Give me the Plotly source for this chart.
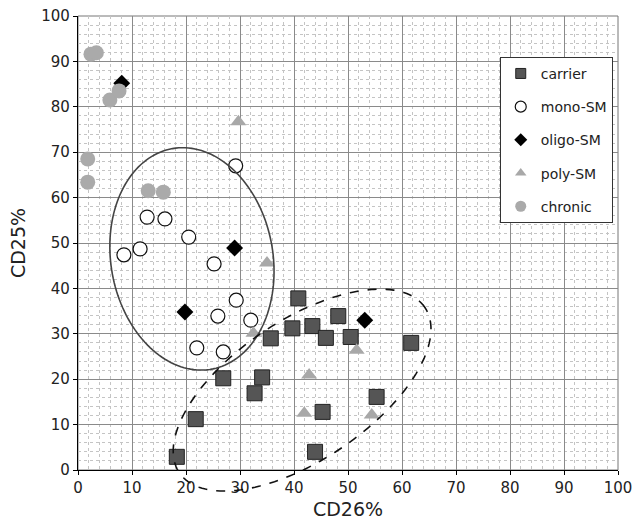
import numpy as np
import plotly.graph_objects as go

# ---- data ----
carrier_x = [40.8, 39.7, 43.4, 35.7, 34.1, 26.9, 32.7, 21.8, 18.3, 43.9, 45.3, 55.3, 61.7, 50.5, 45.9, 48.2]
carrier_y = [37.8, 31.2, 31.7, 29.0, 20.4, 20.2, 16.9, 11.2, 2.9, 4.0, 12.8, 16.1, 28.0, 29.3, 29.1, 33.9]

mono_x = [29.2, 12.8, 16.1, 20.5, 11.5, 8.5, 25.2, 29.3, 25.9, 32.0, 22.0, 26.9]
mono_y = [67.0, 55.7, 55.3, 51.3, 48.7, 47.4, 45.4, 37.4, 33.9, 33.0, 26.9, 26.0]

oligo_x = [8.1, 29.0, 19.8, 53.1]
oligo_y = [85.2, 48.9, 34.8, 33.0]

poly_x = [29.7, 35.0, 32.5, 42.8, 41.9, 51.6, 54.4]
poly_y = [76.7, 45.6, 30.1, 20.9, 12.5, 26.4, 12.1]

chronic_x = [2.4, 3.4, 5.9, 7.6, 1.8, 1.8, 13.0, 15.8]
chronic_y = [91.6, 91.9, 81.5, 83.5, 68.5, 63.4, 61.5, 61.2]

x_ticks = [0, 10, 20, 30, 40, 50, 60, 70, 80, 90, 100]
y_ticks = [0, 10, 20, 30, 40, 50, 60, 70, 80, 90, 100]

# ellipse outlines: centre (data), semi-axes (display px), tilt (deg)
solid_ell = dict(cx=21.1, cy=46.5, a=112, b=81, ang=100)
dash_ell = dict(cx=41.5, cy=17.6, a=148, b=70, ang=33.9)

# ---- layout geometry ----
W, H = 632, 529
ML, MR, MT, MB = 78, 14, 16, 59
kx = (W - ML - MR) / 100.0
ky = (H - MT - MB) / 100.0

def ellipse_path(cx, cy, a, b, ang, n=160):
    t = np.linspace(0, 2 * np.pi, n)
    th = np.radians(ang)
    dx = a * np.cos(t) * np.cos(th) - b * np.sin(t) * np.sin(th)
    dy = a * np.cos(t) * np.sin(th) + b * np.sin(t) * np.cos(th)
    xs = (cx + dx / kx) / 100.0
    ys = (cy + dy / ky) / 100.0
    pts = " L ".join(f"{x:.5f},{y:.5f}" for x, y in zip(xs, ys))
    return "M " + pts + " Z"

FONT = "DejaVu Sans"

styles = [
    ("carrier", carrier_x, carrier_y, dict(symbol="square", size=15, color="#555555", line=dict(color="#222222", width=1)), 10),
    ("mono-SM", mono_x, mono_y, dict(symbol="circle", size=14, color="white", line=dict(color="#111111", width=1.2)), 11),
    ("oligo-SM", oligo_x, oligo_y, dict(symbol="diamond", size=13, color="#000000", line=dict(color="#000000", width=0)), 10),
    ("poly-SM", poly_x, poly_y, dict(symbol="triangle-up", size=14, color="#a8a8a8", line=dict(width=0)), 10),
    ("chronic", chronic_x, chronic_y, dict(symbol="circle", size=15, color="#aaaaaa", line=dict(width=0)), 11),
]

fig = go.Figure()
for name, xs, ys, mk, _ in styles:
    fig.add_trace(go.Scatter(x=xs, y=ys, mode="markers", name=name, marker=mk, showlegend=False))
for i, (name, xs, ys, mk, lsize) in enumerate(styles):
    mk2 = dict(mk)
    mk2["size"] = lsize
    fig.add_trace(go.Scatter(x=[None], y=[None], mode="markers", name=name, marker=mk2,
                             legendgroup=f"g{i}", showlegend=True))

fig.add_shape(type="path", xref="paper", yref="paper", path=ellipse_path(**solid_ell),
              line=dict(color="#444444", width=1.6), layer="above")
fig.add_shape(type="path", xref="paper", yref="paper", path=ellipse_path(**dash_ell),
              line=dict(color="#111111", width=1.6, dash="dash"), layer="above")
fig.add_shape(type="rect", xref="paper", yref="paper", x0=0, x1=1, y0=0, y1=1,
              line=dict(color="#777777", width=1), layer="below")

axis_common = dict(
    range=[0, 100], tickmode="array", showline=True, linecolor="#000000", linewidth=1.2,
    ticks="outside", ticklen=4, tickcolor="#000000", showgrid=True, gridcolor="#8a8a8a", gridwidth=1,
    zeroline=False, tickfont=dict(family=FONT, size=15, color="#222222"),
    minor=dict(dtick=2, showgrid=True, gridcolor="#c4c4c4", griddash="dot", gridwidth=1),
    mirror=False, ticklabeloverflow="allow", automargin=False,
)

fig.update_layout(
    width=W, height=H,
    margin=dict(l=ML, r=MR, t=MT, b=MB),
    paper_bgcolor="white", plot_bgcolor="white",
    font=dict(family=FONT, color="#222222"),
    xaxis=dict(**axis_common, tickvals=x_ticks, ticktext=[str(v) for v in x_ticks],
               title=dict(text="CD26%", font=dict(family=FONT, size=19, color="#222222"), standoff=6)),
    yaxis=dict(**axis_common, tickvals=y_ticks, ticktext=[str(v) for v in y_ticks],
               title=dict(text="CD25%", font=dict(family=FONT, size=19, color="#222222"), standoff=10)),
    legend=dict(x=0.781, y=0.91, xanchor="left", yanchor="top", bgcolor="white",
                bordercolor="#333333", borderwidth=1, font=dict(family=FONT, size=14, color="#222222"),
                tracegroupgap=12, itemsizing="trace", itemwidth=30),
    showlegend=True,
)

fig.write_html("out.html")
